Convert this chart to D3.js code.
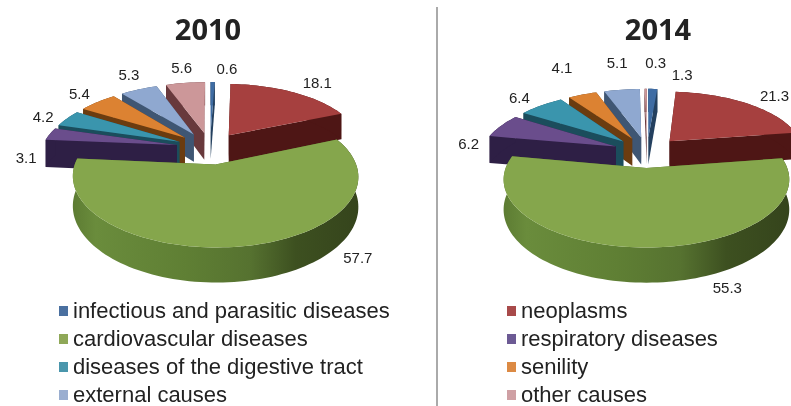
<!DOCTYPE html>
<html>
<head>
<meta charset="utf-8">
<script src="https://cdn.jsdelivr.net/npm/d3@7"></script>
<style>
    html, body { margin: 0; padding: 0; background: #fff; }
    svg { display: block; filter: blur(0.45px); }
    text { font-family: "Liberation Sans", sans-serif; fill: #222; }
</style>
</head>
<body>
<svg id="chart" width="791" height="406"></svg>
<script>
var categories = ["infectious and parasitic diseases", "neoplasms", "cardiovascular diseases", "respiratory diseases",
    "diseases of the digestive tract", "senility", "external causes", "other causes"];
var values2010 = [0.6, 18.1, 57.7, 3.1, 4.2, 5.4, 5.3, 5.6];
var values2014 = [1.3, 21.3, 55.3, 6.2, 6.4, 4.1, 5.1, 0.3];
var topColors = ["#3f6ca3", "#a6403f", "#85a64c", "#6a4d8c", "#3a95ad", "#dc8232", "#8fa8d0", "#cc9799"];
var wallColors = ["#24405f", "#4e1615", "#4f6a2a", "#2e1f45", "#1b4d5c", "#6b3c10", "#3f5673", "#68393c"];
var legendColors = ["#4a70a0", "#a84a4a", "#8fa858", "#6c5a94", "#4a96ac", "#dc8a44", "#9aaed0", "#cfa0a4"];

var svg = d3.select("#chart");

var greenGrad = svg.append("defs").append("linearGradient").attr("id", "greenWall");
[[0, "#5d7c33"], [0.08, "#6a8c3c"], [0.4, "#5f7f34"], [0.62, "#567230"], [0.78, "#3d5020"], [1, "#35441c"]].forEach(function (s) {
    greenGrad.append("stop").attr("offset", s[0]).attr("stop-color", s[1]);
});

svg.append("line")
    .attr("x1", 437).attr("x2", 437).attr("y1", 7).attr("y2", 406)
    .attr("stroke", "#aaa").attr("stroke-width", 2);

var line = d3.line();

function drawPie(values, opt) {
    var cx = opt.cx, cy = opt.cy, R = 135, e = 34, T = opt.tilt, d = 830, h = 28;
    var pie = d3.pie().sort(null).value(function (v) { return v; });

    function project(xw, yw, z) {
        var s = d / (d + yw);
        return [cx + xw * s, cy - yw * T * s + z * s];
    }

    var slices = pie(values).map(function (a, i) {
        var mid = (a.startAngle + a.endAngle) / 2;
        return { i: i, a0: a.startAngle, a1: a.endAngle, mid: mid, ox: e * Math.sin(mid), oy: e * Math.cos(mid) };
    }).sort(function (p, q) { return Math.cos(q.mid) - Math.cos(p.mid); });

    var g = svg.append("g");

    slices.forEach(function (sl) {
        var apex = [sl.ox, sl.oy];
        function rim(a) { return [sl.ox + R * Math.sin(a), sl.oy + R * Math.cos(a)]; }
        var arc = d3.range(0, 1.0001, 1 / Math.max(2, Math.ceil((sl.a1 - sl.a0) * 30))).map(function (t) {
            return rim(sl.a0 + (sl.a1 - sl.a0) * t);
        });
        var topPts = arc.map(function (p) { return project(p[0], p[1], 0); });
        var lowPts = arc.map(function (p) { return project(p[0], p[1], h); });

        var walls = [rim(sl.a0), rim(sl.a1)].map(function (p) {
            return {
                depth: (p[1] + apex[1]) / 2,
                pts: [project(apex[0], apex[1], 0), project(p[0], p[1], 0), project(p[0], p[1], h), project(apex[0], apex[1], h)]
            };
        }).sort(function (p, q) { return q.depth - p.depth; });

        walls.forEach(function (w) {
            g.append("path").attr("d", line(w.pts) + "Z").attr("fill", wallColors[sl.i]);
        });
        g.append("path")
            .attr("d", line(topPts.concat(lowPts.slice().reverse())) + "Z")
            .attr("fill", sl.i === 2 ? "url(#greenWall)" : wallColors[sl.i]);
        g.append("path")
            .attr("d", line([project(apex[0], apex[1], 0)].concat(topPts)) + "Z")
            .attr("fill", topColors[sl.i]);

        var n = opt.nudge[sl.i];
        var lp = project(sl.ox + (R + 14) * Math.sin(sl.mid), sl.oy + (R + 14) * Math.cos(sl.mid), 0);
        g.append("text")
            .attr("x", lp[0] + n[0]).attr("y", lp[1] + n[1])
            .attr("text-anchor", "middle").attr("dominant-baseline", "middle")
            .attr("font-size", 15)
            .text(d3.format(".1f")(values[sl.i]));
    });

    svg.append("text")
        .attr("x", opt.titleX).attr("y", 40)
        .attr("text-anchor", "middle")
        .style("font-family", '"Noto Sans", sans-serif')
        .attr("font-weight", "bold").attr("font-size", 29).attr("fill", "#111")
        .text(opt.title);
}

drawPie(values2010, {
    title: "2010", titleX: 208, cx: 210, cy: 148, tilt: 0.47,
    nudge: [[14, -8], [19, -4], [112, 2], [-11, 26], [-13, 2], [-10, -4], [-5, -9], [-2, -9]]
});
drawPie(values2014, {
    title: "2014", titleX: 658, cx: 647, cy: 152, tilt: 0.45,
    nudge: [[29, -9], [20, -3], [84, 31], [-21, 21], [-14, -3], [-16, -22], [-3, -21], [10, -20]]
});

// legend fills row by row, two columns
var legend = svg.append("g").selectAll("g").data(categories).enter().append("g")
    .attr("transform", function (c, i) {
        return "translate(" + (i % 2 ? 507 : 59) + "," + (311 + 28 * Math.floor(i / 2)) + ")";
    });
legend.append("rect").attr("y", -5).attr("width", 9).attr("height", 10)
    .attr("fill", function (c, i) { return legendColors[i]; });
legend.append("text").attr("x", 14).attr("y", 7).attr("font-size", 22)
    .text(function (c) { return c; });
</script>
</body>
</html>
